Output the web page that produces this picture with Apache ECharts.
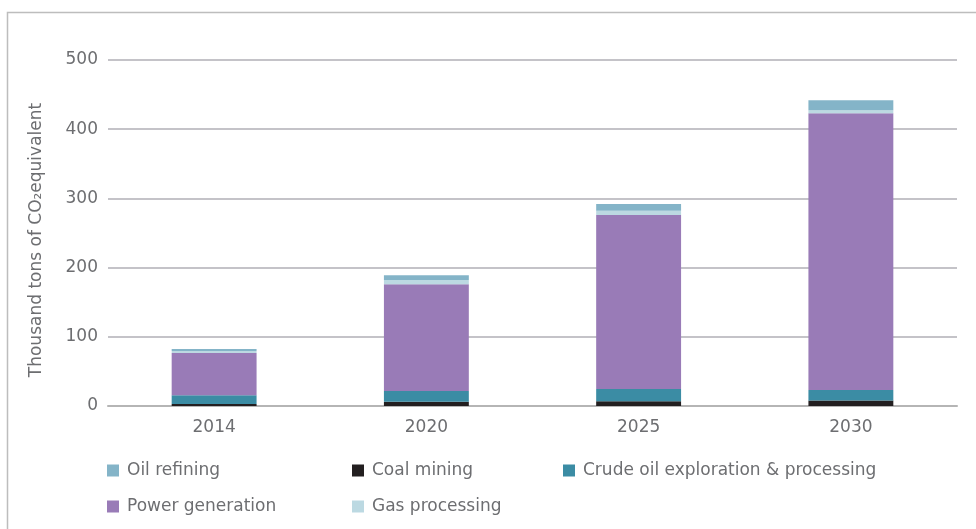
<!DOCTYPE html>
<html>
<head>
<meta charset="utf-8">
<script src="https://cdn.jsdelivr.net/npm/echarts@6/dist/echarts.min.js"></script>
<style>
html,body{margin:0;padding:0;background:#fff;}
#chart{width:976px;height:529px;}
</style>
</head>
<body>
<div id="chart"></div>
<script>
const categories = ['2014', '2020', '2025', '2030'];
const coalMining = [3, 6, 7, 8];
const crudeOil = [12.5, 15.5, 17.5, 15];
const powerGeneration = [61, 154.5, 251.5, 400];
const gasProcessing = [3, 6, 6, 4.5];
const oilRefining = [3, 7, 10, 14.5];
const yTicks = [0, 100, 200, 300, 400, 500];

const colors = {
  'Oil refining': '#84b4c8',
  'Coal mining': '#231f20',
  'Crude oil exploration & processing': '#3b8ca4',
  'Power generation': '#997bb7',
  'Gas processing': '#bcd9e2'
};

const FONT = 'DejaVu Sans';
const textGray = '#6d6e71';

function legendCol(names, left) {
  return {
    data: names,
    orient: 'vertical',
    left: left,
    top: 457,
    itemGap: 19,
    itemWidth: 12,
    itemHeight: 12,
    icon: 'rect',
    selectedMode: false,
    textStyle: { fontFamily: FONT, fontSize: 17, color: textGray, padding: [0, 0, 0, 3] }
  };
}

function bar(name, data) {
  return {
    name: name,
    type: 'bar',
    stack: 'total',
    barWidth: '40%',
    data: data,
    itemStyle: { color: colors[name] },
    emphasis: { disabled: true }
  };
}

const chart = echarts.init(document.getElementById('chart'), null, { renderer: 'canvas' });
chart.setOption({
  animation: false,
  backgroundColor: '#fff',
  graphic: [{
    type: 'rect',
    shape: { x: 7.5, y: 12.5, width: 1000, height: 600 },
    style: { fill: 'none', stroke: '#bdbdbd', lineWidth: 1.5 },
    silent: true,
    z: -10
  }],
  grid: { left: 108, right: 19, top: 60, bottom: 123, containLabel: false },
  legend: [
    legendCol(['Oil refining', 'Power generation'], 102),
    legendCol(['Coal mining', 'Gas processing'], 347),
    legendCol(['Crude oil exploration & processing'], 558)
  ],
  xAxis: {
    type: 'category',
    data: categories,
    axisTick: { show: false },
    axisLine: { show: true, lineStyle: { color: '#b5b5b5', width: 2 } },
    axisLabel: { fontFamily: FONT, fontSize: 17, color: textGray, margin: 13 }
  },
  yAxis: {
    type: 'value',
    min: yTicks[0],
    max: yTicks[yTicks.length - 1],
    interval: 100,
    name: 'Thousand tons of CO\u2082equivalent',
    nameLocation: 'middle',
    nameGap: 63,
    nameTextStyle: { fontFamily: FONT, fontSize: 17, color: textGray, padding: [0, 14, 0, 0] },
    axisLine: { show: false },
    axisTick: { show: false },
    axisLabel: { fontFamily: FONT, fontSize: 17, color: textGray, margin: 10 },
    splitLine: { lineStyle: { color: '#c4c3c8', width: 2 } }
  },
  series: [
    bar('Coal mining', coalMining),
    bar('Crude oil exploration & processing', crudeOil),
    bar('Power generation', powerGeneration),
    bar('Gas processing', gasProcessing),
    bar('Oil refining', oilRefining)
  ]
});
</script>
</body>
</html>
